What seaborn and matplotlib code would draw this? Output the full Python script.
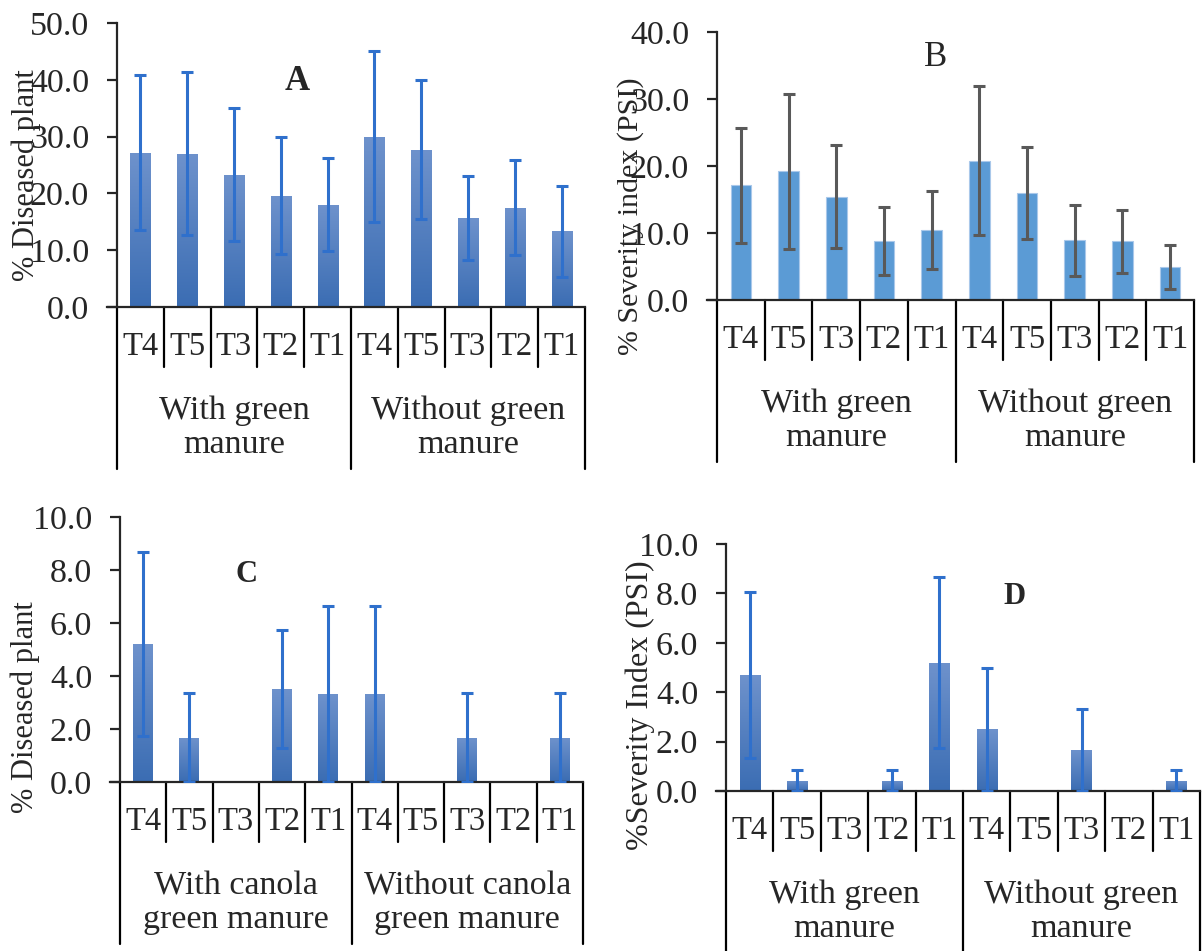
import numpy as np
import pandas as pd
import matplotlib
matplotlib.use("Agg")
import matplotlib.pyplot as plt
import seaborn as sns
from matplotlib.colors import LinearSegmentedColormap

# data
treatments = ["T4", "T5", "T3", "T2", "T1"]
groups_green = ["With green\nmanure", "Without green\nmanure"]
groups_canola = ["With canola\ngreen manure", "Without canola\ngreen manure"]

diseased_a = [27.2, 27.0, 23.3, 19.6, 18.0, 30.0, 27.7, 15.6, 17.5, 13.3]
diseased_a_err = [13.6, 14.3, 11.7, 10.3, 8.2, 15.0, 12.2, 7.4, 8.4, 8.0]

severity_b = [17.1, 19.2, 15.4, 8.8, 10.4, 20.8, 16.0, 8.9, 8.8, 4.9]
severity_b_err = [8.6, 11.6, 7.7, 5.1, 5.8, 11.1, 6.9, 5.3, 4.7, 3.3]

diseased_c = [5.2, 1.67, 0.0, 3.5, 3.33, 3.33, 0.0, 1.67, 0.0, 1.67]
diseased_c_err = [3.47, 1.67, 0.0, 2.23, 3.33, 3.33, 0.0, 1.67, 0.0, 1.67]

severity_d = [4.7, 0.42, 0.0, 0.42, 5.2, 2.5, 0.0, 1.67, 0.0, 0.42]
severity_d_err = [3.36, 0.42, 0.0, 0.42, 3.46, 2.5, 0.0, 1.67, 0.0, 0.42]

W, H = 1202, 951

sns.set_style("ticks")
plt.rcParams['font.family'] = ['Liberation Serif', 'DejaVu Serif']
plt.rcParams['axes.linewidth'] = 1.6

fig = plt.figure(figsize=(W / 100, H / 100), dpi=100)

grad_cmap = LinearSegmentedColormap.from_list("bluegrad", ["#3B6DB3", "#6E92CC"])


def make_df(values, errs, groups):
    slots = []
    for g in groups:
        for t in treatments:
            slots.append(g + "|" + t)
    return pd.DataFrame({"slot": slots, "value": values, "err": errs})


def draw_panel(px, values, errs, groups, ymax, ystep, ylabel, letter,
               gradient=True, err_color="#2F70CC"):
    left, right, ytop, y0 = px["box"]
    ax = fig.add_axes([left / W, 1 - y0 / H, (right - left) / W, (y0 - ytop) / H])
    ax_h = y0 - ytop
    df = make_df(values, errs, groups)

    bar_color = "#4A7BC0" if gradient else "#5B9BD5"
    sns.barplot(data=df, x="slot", y="value", ax=ax, color=bar_color,
                errorbar=None, width=0.43, saturation=1,
                edgecolor="none" if gradient else "#A9C8EA", linewidth=0.8)

    if gradient:
        grad = np.linspace(0, 1, 100).reshape(-1, 1)
        for p in ax.patches:
            h = p.get_height()
            if h <= 0:
                continue
            x0 = p.get_x()
            im = ax.imshow(grad, extent=[x0, x0 + p.get_width(), 0, h],
                           origin="lower", aspect="auto", cmap=grad_cmap,
                           zorder=p.get_zorder())
            im.set_clip_path(p)

    xs = np.arange(len(df))
    mask = df["err"].values > 0
    ax.errorbar(xs[mask], df["value"].values[mask], yerr=df["err"].values[mask],
                fmt="none", ecolor=err_color, elinewidth=2.2, capsize=4.6,
                capthick=2.2, zorder=5)

    ax.set_xlim(-0.5, len(df) - 0.5)
    ax.set_ylim(0, ymax)
    ticks = np.arange(0, ymax + 0.01, ystep)
    ax.set_yticks(ticks)
    ax.set_yticklabels([f"{v:.1f}" for v in ticks])
    ax.tick_params(axis="y", labelsize=24.5, length=7, width=1.6, pad=13)
    ax.set_xticks([])
    ax.set_xlabel("")
    ax.set_ylabel("")
    sns.despine(ax=ax)
    ax.spines["bottom"].set_bounds(-0.5 - 10 / ((right - left) / len(df)), len(df) - 0.5)

    # two-level category axis
    tr = ax.get_xaxis_transform()
    sep_low = -60 / ax_h
    grp_low = -162 / ax_h
    for b in range(len(df) + 1):
        xb = b - 0.5
        low = grp_low if b % 5 == 0 else sep_low
        ax.plot([xb, xb], [0, low], transform=tr, color="black", lw=1.6, clip_on=False)
    for i, row in df.iterrows():
        ax.text(i, -40 / ax_h, row["slot"].split("|")[1], transform=tr,
                ha="center", va="center", fontsize=23.5)
    for gi, g in enumerate(groups):
        ax.text(gi * 5 + 2, -121 / ax_h, g, transform=tr, ha="center",
                va="center", fontsize=24.5, linespacing=1.17)

    lx, ly, lfs = px["ylabel"]
    fig.text(lx / W, 1 - ly / H, ylabel, rotation=90, ha="center", va="center",
             fontsize=lfs)
    tx, ty, bold, fs = px["letter"]
    fig.text(tx / W, 1 - ty / H, letter, ha="center", va="center", fontsize=fs,
             fontweight="bold" if bold else "normal")
    return ax


draw_panel({"box": (117, 585, 23, 307), "ylabel": (26, 175, 22), "letter": (297, 81, True, 25)},
           diseased_a, diseased_a_err, groups_green, 50, 10, "% Diseased plant", "A")
draw_panel({"box": (717, 1194, 32, 300), "ylabel": (631, 216, 21.6), "letter": (936, 57, False, 25)},
           severity_b, severity_b_err, groups_green, 40, 10, "% Severity index (PSI)", "B",
           gradient=False, err_color="#595959")
draw_panel({"box": (120, 583, 517, 782), "ylabel": (25, 707, 22), "letter": (246, 575, True, 22)},
           diseased_c, diseased_c_err, groups_canola, 10, 2, "% Diseased plant", "C")
draw_panel({"box": (726, 1200, 544, 791), "ylabel": (640, 705, 23), "letter": (1014, 596, True, 22)},
           severity_d, severity_d_err, groups_green, 10, 2, "%Severity Index (PSI)", "D")

fig.savefig("out.png", dpi=100)
